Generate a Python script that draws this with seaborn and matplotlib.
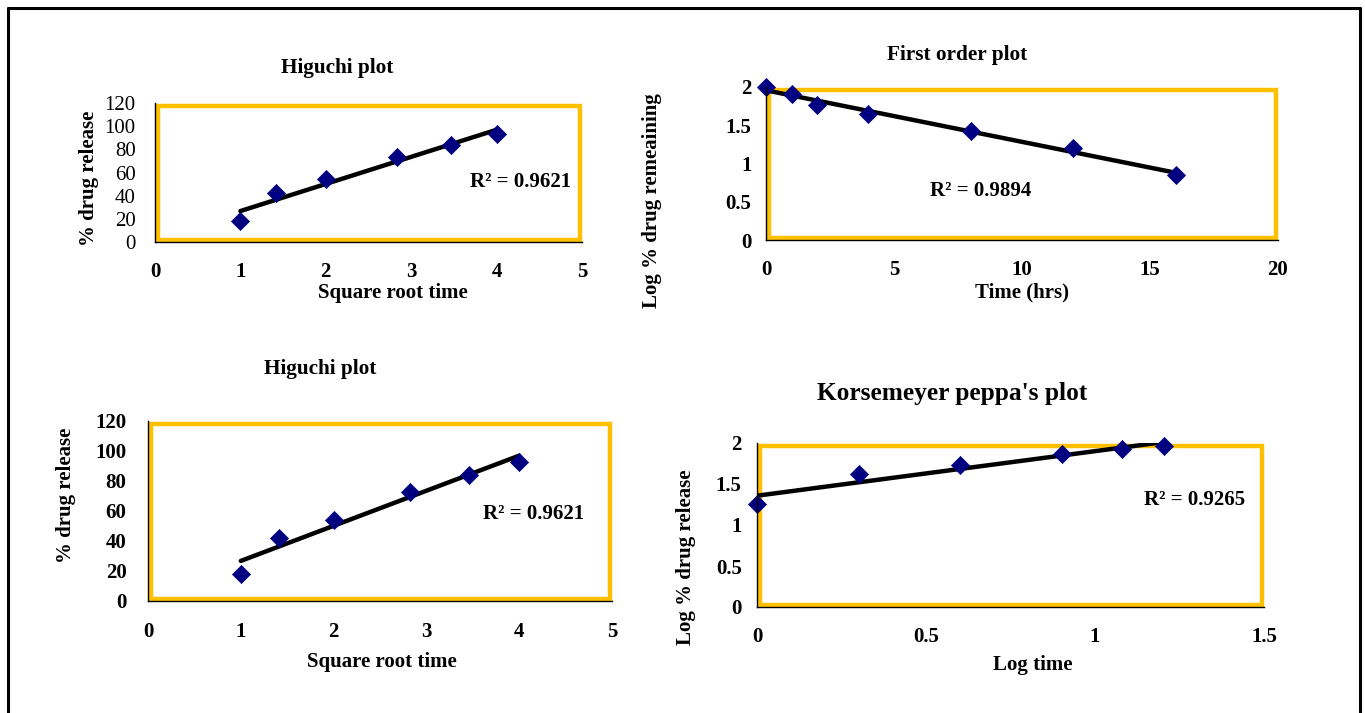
import numpy as np
import pandas as pd
import matplotlib
matplotlib.use("Agg")
import matplotlib.pyplot as plt
import seaborn as sns
from matplotlib.patches import Rectangle
from matplotlib.lines import Line2D

# ---------------- data ----------------
sqrt_time = [1.0, 1.414, 2.0, 2.828, 3.464, 4.0]
pct_release = [18, 42, 54, 73, 84, 93]

time_hrs = [0, 1, 2, 4, 8, 12, 16]
log_remaining = [2.0, 1.91, 1.76, 1.65, 1.43, 1.20, 0.85]

log_time = [0.0, 0.301, 0.602, 0.903, 1.079, 1.204]
log_release = [1.255, 1.623, 1.732, 1.863, 1.924, 1.968]

r2_higuchi = "R² = 0.9621"
r2_first = "R² = 0.9894"
r2_kp = "R² = 0.9265"

# ---------------- style ----------------
sns.set_style("white")
plt.rcParams["font.family"] = ["Liberation Serif", "DejaVu Serif"]
plt.rcParams["text.color"] = "black"
plt.rcParams["axes.labelcolor"] = "black"
plt.rcParams["xtick.color"] = "black"
plt.rcParams["ytick.color"] = "black"

W, H = 1365, 713
fig = plt.figure(figsize=(W / 100, H / 100), dpi=100)

YELLOW = "#FFC000"
NAVY = "#000080"


def px_axes(x0, x1, ytop, ybot):
    return fig.add_axes([x0 / W, 1 - ybot / H, (x1 - x0) / W, (ybot - ytop) / H])


def decorate(ax, wpx, hpx, xpad, ypad):
    for s in ["top", "right"]:
        ax.spines[s].set_visible(False)
    for s in ["left", "bottom"]:
        ax.spines[s].set_color("black")
        ax.spines[s].set_linewidth(1.0)
        ax.spines[s].set_zorder(5)
    dx, dy = 2.5 / wpx, 2.5 / hpx
    ax.add_patch(Rectangle((dx, dy), 1 - 2 * dx, 1 - 2 * dy, transform=ax.transAxes,
                           fill=False, edgecolor=YELLOW, linewidth=3.2, clip_on=False, zorder=1))
    ax.tick_params(axis="both", direction="out", length=5, width=1, color="black",
                   labelsize=15, labelcolor="black")
    ax.tick_params(axis="x", pad=xpad)
    ax.tick_params(axis="y", pad=ypad)
    ax.set_facecolor("white")


def panel(ax, x, y, xlim, ylim, xticks, yticks, r2, r2pos, title, title_pos, title_size,
          xlabel, xlab_pos, ylabel, ylab_pos, ybold=True):
    df = pd.DataFrame({"x": x, "y": y})
    sns.regplot(data=df, x="x", y="y", ax=ax, scatter=False, ci=None, truncate=True,
                line_kws={"color": "black", "linewidth": 3.2, "zorder": 3})
    sns.scatterplot(data=df, x="x", y="y", ax=ax, marker="D", s=85, color=NAVY,
                    edgecolor=NAVY, linewidth=0.5, zorder=4, clip_on=False)
    ax.set_xlim(*xlim)
    ax.set_ylim(*ylim)
    ax.set_xticks(xticks)
    ax.set_yticks(yticks)
    ax.set_xticklabels([f"{t:g}" for t in xticks], fontweight="bold", fontsize=15)
    ax.set_yticklabels([f"{t:g}" for t in yticks], fontweight="bold" if ybold else "normal",
                       fontsize=15)
    ax.set_xlabel(xlabel, fontsize=15, fontweight="bold", va="center")
    ax.xaxis.set_label_coords(*xlab_pos)
    ax.set_ylabel(ylabel, fontsize=15, fontweight="bold", va="center")
    ax.yaxis.set_label_coords(*ylab_pos)
    ax.text(title_pos[0], title_pos[1], title, transform=ax.transAxes, ha="center",
            va="center", fontsize=title_size, fontweight="bold")
    ax.text(r2pos[0], r2pos[1], r2, transform=ax.transAxes, ha="center", va="center",
            fontsize=15, fontweight="bold")


# Panel 1: Higuchi (top-left)
ax1 = px_axes(155, 582, 103, 242)
decorate(ax1, 427, 139, xpad=9.5, ypad=9)
panel(ax1, sqrt_time, pct_release, (0, 5), (0, 120), [0, 1, 2, 3, 4, 5],
      [0, 20, 40, 60, 80, 100, 120], r2_higuchi, (0.857, 0.432),
      "Higuchi plot", (0.426, 1.252), 15.3,
      "Square root time", (0.557, -0.367), "% drug release", (-0.155, 0.46), ybold=False)

# Panel 2: First order (top-right)
ax2 = px_axes(766, 1278, 87, 240)
decorate(ax2, 512, 153, xpad=9.5, ypad=5.5)
panel(ax2, time_hrs, log_remaining, (0, 20), (0, 2), [0, 5, 10, 15, 20],
      [0, 0.5, 1, 1.5, 2], r2_first, (0.420, 0.320),
      "First order plot", (0.373, 1.209), 15.3,
      "Time (hrs)", (0.50, -0.340), "Log % drug remeaining", (-0.223, 0.261))

# Panel 3: Higuchi (bottom-left)
ax3 = px_axes(148, 612, 421, 601)
decorate(ax3, 464, 180, xpad=10, ypad=10.5)
panel(ax3, sqrt_time, pct_release, (0, 5), (0, 120), [0, 1, 2, 3, 4, 5],
      [0, 20, 40, 60, 80, 100, 120], r2_higuchi, (0.830, 0.483),
      "Higuchi plot", (0.371, 1.289), 15.3,
      "Square root time", (0.504, -0.339), "% drug release", (-0.177, 0.589))

# Panel 4: Korsemeyer peppa's (bottom-right)
ax4 = px_axes(757, 1264, 443, 607)
decorate(ax4, 507, 164, xpad=9.5, ypad=6)
panel(ax4, log_time, log_release, (0, 1.5), (0, 2), [0, 0.5, 1, 1.5],
      [0, 0.5, 1, 1.5, 2], r2_kp, (0.864, 0.652),
      "Korsemeyer peppa's plot", (0.385, 1.299), 18.3,
      "Log time", (0.544, -0.354), "Log % drug release", (-0.140, 0.305))

# outer frame (left, top, right)
for (xa, ya) in [([8, 8], [720, 8]), ([8, 1360], [8, 8]), ([1360, 1360], [8, 720])]:
    fig.add_artist(Line2D([x / W for x in xa], [1 - y / H for y in ya],
                          transform=fig.transFigure, color="black", linewidth=2.2))

fig.savefig("out.png", dpi=100, facecolor="white")
